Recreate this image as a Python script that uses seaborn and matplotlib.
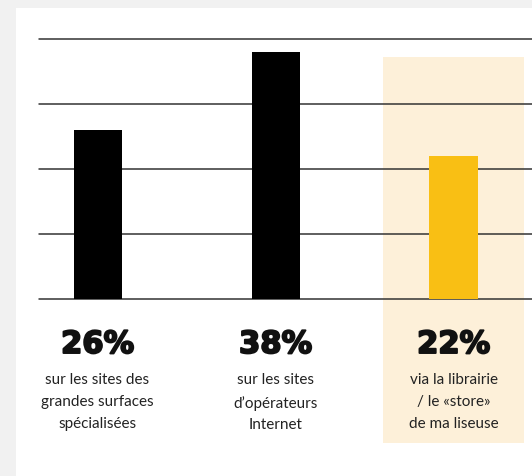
import matplotlib
matplotlib.use("Agg")
import matplotlib.pyplot as plt
import matplotlib.transforms as mtransforms
import matplotlib.patheffects as pe
from matplotlib.patches import Rectangle
import seaborn as sns
import pandas as pd

# data
categories = ["sites_specialises", "operateurs_internet", "store_liseuse"]
values = [26, 38, 22]
value_labels = ["26%", "38%", "22%"]
descriptions = [
    "sur les sites des\ngrandes surfaces\nspécialisées",
    "sur les sites\nd\u2019opérateurs\nInternet",
    "via la librairie\n/ le «store»\nde ma liseuse",
]
bar_colors = ["#000000", "#000000", "#f9bf14"]
highlight_idx = 2

sns.set_theme(style="white")
plt.rcParams["font.family"] = ["Lato", "DejaVu Sans"]

W, H = 532, 476
fig = plt.figure(figsize=(W / 100, H / 100), dpi=100, facecolor="#f1f1f1")

# white card
fig.patches.append(Rectangle((16 / W, 0), 1, 1 - 8 / H, transform=fig.transFigure,
                             facecolor="white", edgecolor="none", zorder=-10))

ax_left, ax_right = 39 / W, 1.0
ax_bottom, ax_top = 1 - 299 / H, 1 - 39 / H
ax = fig.add_axes([ax_left, ax_bottom, ax_right - ax_left, ax_top - ax_bottom])
ax.set_facecolor("none")

df = pd.DataFrame({"cat": categories, "val": values})
sns.barplot(data=df, x="cat", y="val", hue="cat", palette=bar_colors, width=0.27,
            legend=False, ax=ax, zorder=3, saturation=1, linewidth=0)

ax.set_xlim(-0.329, 2.441)
ax.set_ylim(0, 40)

# horizontal rules
for yv in [0, 10, 20, 30, 40]:
    ax.axhline(yv, color="#333333", lw=1.1, zorder=2, clip_on=False)

# highlight band behind the last column
blend = mtransforms.blended_transform_factory(ax.transData, fig.transFigure)
ax.add_patch(Rectangle((highlight_idx - 0.396, 1 - 443 / H), 0.792, (443 - 57) / H,
                       transform=blend, facecolor="#fdf0d9", edgecolor="none",
                       zorder=1, clip_on=False))

lab_tr = mtransforms.blended_transform_factory(ax.transData, ax.transAxes)
heavy = [pe.withStroke(linewidth=1.4, foreground="#111111")]
for i, (lab, desc) in enumerate(zip(value_labels, descriptions)):
    ax.text(i, -0.175, lab, transform=lab_tr, ha="center", va="center",
            fontsize=22, fontweight="bold", family="DejaVu Sans",
            color="#111111", path_effects=heavy)
    ax.text(i, -0.285, desc, transform=lab_tr, ha="center", va="top",
            fontsize=11, color="#222222", linespacing=1.72)

ax.set_xlabel("")
ax.set_ylabel("")
ax.set_xticks([])
ax.set_yticks([])
sns.despine(ax=ax, left=True, bottom=True)

fig.savefig("out.png", dpi=100, facecolor=fig.get_facecolor())
